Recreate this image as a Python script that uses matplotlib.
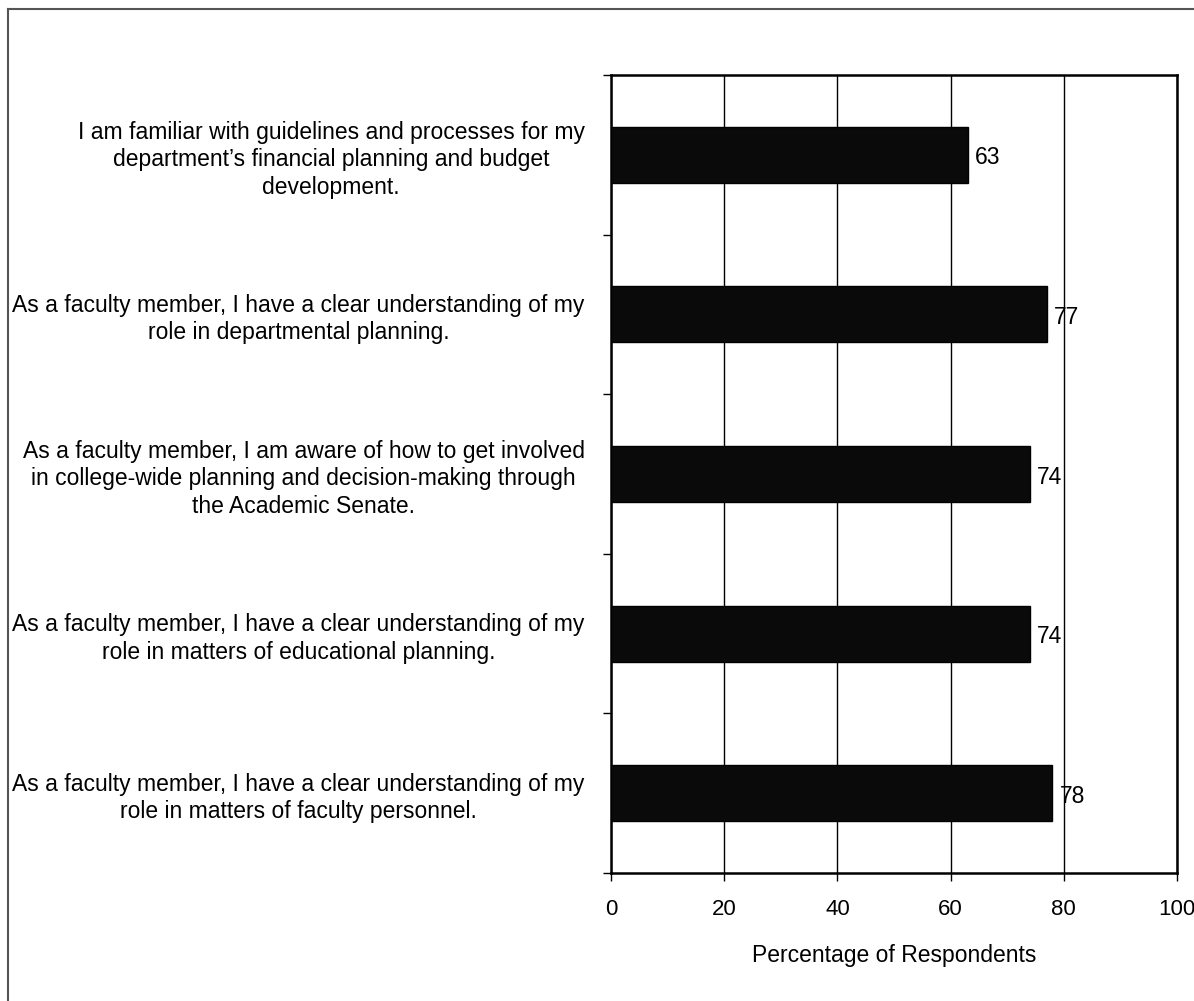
import matplotlib
matplotlib.use("Agg")
import matplotlib.pyplot as plt
from matplotlib.lines import Line2D

plt.rcParams['font.family'] = ['Liberation Sans', 'DejaVu Sans']

# statements, top to bottom
statements = [
    "I am familiar with guidelines and processes for my\ndepartment\u2019s financial planning and budget\ndevelopment.",
    "As a faculty member, I have a clear understanding of my\nrole in departmental planning.",
    "As a faculty member, I am aware of how to get involved\nin college-wide planning and decision-making through\nthe Academic Senate.",
    "As a faculty member, I have a clear understanding of my\nrole in matters of educational planning.",
    "As a faculty member, I have a clear understanding of my\nrole in matters of faculty personnel.",
]
percents = [63, 77, 74, 74, 78]
x_ticks = [0, 20, 40, 60, 80, 100]

W, H = 1194, 1001
FS = 16.5
fig = plt.figure(figsize=(W / 100, H / 100), dpi=100)
ax = fig.add_axes([611 / W, 1 - 873 / H, (1177 - 611) / W, (873 - 75) / H])

pos = list(range(len(statements)))
ax.barh(pos, percents, height=0.35, color='#0a0a0a', edgecolor='black', linewidth=1, zorder=3)
for p, v in zip(pos, percents):
    ax.text(v + 1.3, p + 0.02, str(v), va='center', ha='left', fontsize=FS, color='black', zorder=4)

ax.set_xlim(0, 100)
ax.set_ylim(len(statements) - 0.5, -0.5)
ax.set_xticks(x_ticks)
ax.set_xticklabels([str(t) for t in x_ticks], fontsize=16)
ax.xaxis.grid(True, color='black', linewidth=1)
ax.set_axisbelow(True)

ax.set_yticks(pos)
ax.set_yticklabels(statements, fontsize=FS, linespacing=1.25)
for lab in ax.get_yticklabels():
    lab.set_multialignment('center')
ax.tick_params(axis='y', which='major', length=0, pad=19)
ax.set_yticks([p - 0.5 for p in pos] + [len(pos) - 0.5], minor=True)
ax.tick_params(axis='y', which='minor', length=6, width=1, direction='out')
ax.tick_params(axis='x', length=6, width=1, direction='out', pad=13)

for s in ax.spines.values():
    s.set_linewidth(1.8)
    s.set_color('black')

ax.set_xlabel("Percentage of Respondents", fontsize=FS, labelpad=17)

# outer frame of the scanned figure
fig.add_artist(Line2D([8 / W, 8 / W], [0, 1 - 9 / H], color='#555555', linewidth=1.5))
fig.add_artist(Line2D([8 / W, 1], [1 - 9 / H, 1 - 9 / H], color='#555555', linewidth=1.5))

fig.savefig("out.png", dpi=100)
